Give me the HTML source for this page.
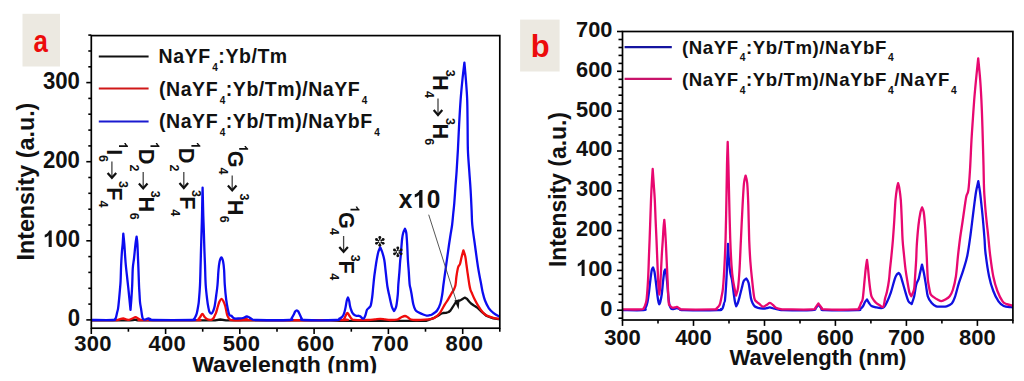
<!DOCTYPE html>
<html><head><meta charset="utf-8"><title>Figure</title>
<style>html,body{margin:0;padding:0;background:#fff;overflow:hidden}svg{display:block}</style>
</head><body>
<svg width="1024" height="381" viewBox="0 0 1024 381">
<rect width="1024" height="381" fill="#fff"/>
<rect x="22.5" y="13.8" width="37.5" height="52.7" fill="#ece9e1"/>
<rect x="520.1" y="19.6" width="39.5" height="51.9" fill="#ece9e1"/>
<text transform="translate(33.54 51.7) scale(0.809 1)" style="font-family:'Liberation Sans',sans-serif;font-weight:bold;font-size:32px" fill="#ec0c0c">a</text>
<text transform="translate(530.66 56.7) scale(0.967 1)" style="font-family:'Liberation Sans',sans-serif;font-weight:bold;font-size:32px" fill="#ec0c0c">b</text>
<g style="font-family:'Liberation Sans',sans-serif;font-weight:bold" fill="#111">
<g stroke="#000" stroke-width="1.6" fill="none">
<line x1="86.3" y1="319.9" x2="91.3" y2="319.9"/><line x1="88.3" y1="304.1" x2="91.3" y2="304.1"/><line x1="88.3" y1="288.3" x2="91.3" y2="288.3"/><line x1="88.3" y1="272.4" x2="91.3" y2="272.4"/><line x1="88.3" y1="256.6" x2="91.3" y2="256.6"/><line x1="86.3" y1="240.8" x2="91.3" y2="240.8"/><line x1="88.3" y1="225.0" x2="91.3" y2="225.0"/><line x1="88.3" y1="209.2" x2="91.3" y2="209.2"/><line x1="88.3" y1="193.3" x2="91.3" y2="193.3"/><line x1="88.3" y1="177.5" x2="91.3" y2="177.5"/><line x1="86.3" y1="161.7" x2="91.3" y2="161.7"/><line x1="88.3" y1="145.9" x2="91.3" y2="145.9"/><line x1="88.3" y1="130.1" x2="91.3" y2="130.1"/><line x1="88.3" y1="114.2" x2="91.3" y2="114.2"/><line x1="88.3" y1="98.4" x2="91.3" y2="98.4"/><line x1="86.3" y1="82.6" x2="91.3" y2="82.6"/><line x1="88.3" y1="66.8" x2="91.3" y2="66.8"/><line x1="88.3" y1="51.0" x2="91.3" y2="51.0"/><line x1="88.3" y1="35.1" x2="91.3" y2="35.1"/>
<line x1="91.3" y1="328.2" x2="91.3" y2="334.0"/><line x1="128.4" y1="328.2" x2="128.4" y2="331.7"/><line x1="165.6" y1="328.2" x2="165.6" y2="334.0"/><line x1="202.7" y1="328.2" x2="202.7" y2="331.7"/><line x1="239.8" y1="328.2" x2="239.8" y2="334.0"/><line x1="277.0" y1="328.2" x2="277.0" y2="331.7"/><line x1="314.1" y1="328.2" x2="314.1" y2="334.0"/><line x1="351.3" y1="328.2" x2="351.3" y2="331.7"/><line x1="388.4" y1="328.2" x2="388.4" y2="334.0"/><line x1="425.5" y1="328.2" x2="425.5" y2="331.7"/><line x1="462.7" y1="328.2" x2="462.7" y2="334.0"/><line x1="499.8" y1="328.2" x2="499.8" y2="331.7"/>
</g>
<clipPath id="ca"><rect x="91.3" y="35.6" width="408.5" height="292.6"/></clipPath>
<g clip-path="url(#ca)" fill="none" stroke-width="2.3" stroke-linejoin="round">
<path d="M91.3 320.4 L130.0 320.4 L133.0 320.0 L135.1 319.6 L137.5 320.4 L140.0 320.4 L215.0 320.4 L220.4 319.5 L226.0 320.4 L330.0 320.4 L340.0 320.8 L426.0 320.8 L434.2 317.8 L438.0 315.8 L440.5 314.0 L443.2 313.0 L446.0 312.8 L448.7 312.0 L450.5 310.5 L452.0 308.1 L454.0 305.0 L455.9 302.0 L458.1 300.9 L460.3 300.4 L462.5 299.0 L464.7 297.6 L466.9 298.7 L469.1 301.5 L471.0 303.5 L473.5 305.3 L475.5 306.5 L477.9 308.1 L482.3 312.3 L486.7 316.0 L493.3 318.3 L501.0 319.5" stroke="#111"/>
<path d="M91.30 320.10C95.08 320.10 109.72 320.10 114.00 320.10C118.28 320.10 116.00 320.25 117.00 320.10C118.00 319.95 118.97 319.47 120.00 319.20C121.03 318.93 122.12 318.45 123.20 318.50C124.28 318.55 125.53 319.28 126.50 319.50C127.47 319.72 128.00 319.97 129.00 319.80C130.00 319.63 131.42 318.95 132.50 318.50C133.58 318.05 134.50 317.05 135.50 317.10C136.50 317.15 137.58 318.30 138.50 318.80C139.42 319.30 140.25 319.88 141.00 320.10C141.75 320.32 133.83 320.10 143.00 320.10C152.17 320.10 186.85 320.15 196.00 320.10C205.15 320.05 197.20 320.32 197.90 319.80C198.60 319.28 199.45 317.98 200.20 317.00C200.95 316.02 201.67 313.90 202.40 313.90C203.13 313.90 203.78 316.10 204.60 317.00C205.42 317.90 206.40 318.82 207.30 319.30C208.20 319.78 209.22 319.87 210.00 319.90C210.78 319.93 211.40 319.82 212.00 319.50C212.60 319.18 213.10 318.75 213.60 318.00C214.10 317.25 214.57 315.95 215.00 315.00C215.43 314.05 215.70 313.80 216.20 312.30C216.70 310.80 217.45 307.80 218.00 306.00C218.55 304.20 218.92 302.70 219.50 301.50C220.08 300.30 220.87 298.88 221.50 298.80C222.13 298.72 222.68 299.80 223.30 301.00C223.92 302.20 224.70 304.33 225.20 306.00C225.70 307.67 225.95 309.43 226.30 311.00C226.65 312.57 226.78 314.05 227.30 315.40C227.82 316.75 228.62 318.32 229.40 319.10C230.18 319.88 229.73 319.93 232.00 320.10C234.27 320.27 240.55 320.32 243.00 320.10C245.45 319.88 245.53 318.80 246.70 318.80C247.87 318.80 234.45 319.88 250.00 320.10C265.55 320.32 324.37 320.27 340.00 320.10C355.63 319.93 342.88 319.78 343.80 319.10C344.72 318.42 344.92 317.05 345.50 316.00C346.08 314.95 346.67 312.88 347.30 312.80C347.93 312.72 348.60 314.53 349.30 315.50C350.00 316.47 350.72 317.88 351.50 318.60C352.28 319.32 351.25 319.57 354.00 319.80C356.75 320.03 364.50 320.08 368.00 320.00C371.50 319.92 372.97 319.50 375.00 319.30C377.03 319.10 378.53 318.78 380.20 318.80C381.87 318.82 383.37 319.20 385.00 319.40C386.63 319.60 387.95 319.98 390.00 320.00C392.05 320.02 395.47 319.92 397.30 319.50C399.13 319.08 399.72 318.08 401.00 317.50C402.28 316.92 403.83 316.00 405.00 316.00C406.17 316.00 406.98 316.92 408.00 317.50C409.02 318.08 409.77 319.08 411.10 319.50C412.43 319.92 413.68 319.97 416.00 320.00C418.32 320.03 422.48 319.87 425.00 319.70C427.52 319.53 429.43 319.37 431.10 319.00C432.77 318.63 433.63 318.37 435.00 317.50C436.37 316.63 438.13 315.13 439.30 313.80C440.47 312.47 441.10 311.02 442.00 309.50C442.90 307.98 443.90 306.03 444.70 304.70C445.50 303.37 446.13 302.55 446.80 301.50C447.47 300.45 447.87 299.83 448.70 298.40C449.53 296.97 450.95 294.35 451.80 292.90C452.65 291.45 453.18 291.02 453.80 289.70C454.42 288.38 455.05 287.28 455.50 285.00C455.95 282.72 456.05 279.00 456.50 276.00C456.95 273.00 457.62 269.00 458.20 267.00C458.78 265.00 459.43 265.67 460.00 264.00C460.57 262.33 461.03 259.27 461.60 257.00C462.17 254.73 463.04 251.72 463.40 250.40C463.78 251.62 464.78 254.07 465.30 256.50C465.82 258.93 466.13 262.37 466.50 265.00C466.87 267.63 467.02 268.97 467.50 272.30C467.98 275.63 468.90 282.05 469.40 285.00C469.90 287.95 470.13 288.75 470.50 290.00C470.87 291.25 470.92 290.95 471.60 292.50C472.28 294.05 473.55 297.17 474.60 299.30C475.65 301.43 476.62 303.23 477.90 305.30C479.18 307.37 480.83 309.98 482.30 311.70C483.77 313.42 484.87 314.57 486.70 315.60C488.53 316.63 490.92 317.32 493.30 317.90C495.68 318.48 499.72 318.90 501.00 319.10" stroke="#f00c0c"/>
<path d="M91.30 320.00C94.92 320.00 109.13 320.07 113.00 320.00C116.87 319.93 114.03 319.93 114.50 319.60C114.97 319.27 115.38 319.10 115.80 318.00C116.22 316.90 116.62 314.60 117.00 313.00C117.38 311.40 117.77 310.57 118.10 308.40C118.43 306.23 118.70 303.07 119.00 300.00C119.30 296.93 119.63 293.17 119.90 290.00C120.17 286.83 120.40 285.00 120.60 281.00C120.80 277.00 120.88 270.83 121.10 266.00C121.32 261.17 121.63 255.70 121.90 252.00C122.17 248.30 122.47 246.85 122.70 243.80C122.93 240.75 123.18 235.72 123.30 233.70C123.50 235.72 124.00 240.08 124.30 243.80C124.60 247.52 124.85 252.47 125.10 256.00C125.35 259.53 125.45 261.33 125.80 265.00C126.15 268.67 126.78 274.17 127.20 278.00C127.62 281.83 127.95 284.67 128.30 288.00C128.65 291.33 129.00 295.00 129.30 298.00C129.60 301.00 129.90 304.03 130.10 306.00C130.30 307.97 130.42 309.04 130.50 309.80C130.58 308.84 130.77 306.63 130.90 305.00C131.03 303.37 131.08 303.33 131.30 300.00C131.52 296.67 131.95 290.33 132.20 285.00C132.45 279.67 132.50 272.42 132.80 268.00C133.10 263.58 133.55 262.53 134.00 258.50C134.45 254.47 135.07 247.45 135.50 243.80C135.93 240.15 136.38 238.04 136.60 236.60C136.76 238.04 137.17 240.15 137.40 243.80C137.63 247.45 137.83 254.47 138.00 258.50C138.17 262.53 138.23 263.58 138.40 268.00C138.57 272.42 138.83 281.00 139.00 285.00C139.17 289.00 139.23 289.17 139.40 292.00C139.57 294.83 139.73 299.27 140.00 302.00C140.27 304.73 140.70 306.40 141.00 308.40C141.30 310.40 141.53 312.38 141.80 314.00C142.07 315.62 142.27 317.18 142.60 318.10C142.93 319.02 143.32 319.27 143.80 319.50C144.28 319.73 144.73 319.70 145.50 319.50C146.27 319.30 147.48 318.28 148.40 318.30C149.32 318.32 150.23 319.32 151.00 319.60C151.77 319.88 146.17 319.93 153.00 320.00C159.83 320.07 185.23 320.12 192.00 320.00C198.77 319.88 193.05 319.80 193.60 319.30C194.15 318.80 194.77 318.00 195.30 317.00C195.83 316.00 196.32 315.13 196.80 313.30C197.28 311.47 197.85 308.10 198.20 306.00C198.55 303.90 198.60 304.20 198.90 300.70C199.20 297.20 199.72 290.95 200.00 285.00C200.28 279.05 200.43 270.83 200.60 265.00C200.77 259.17 200.83 255.83 201.00 250.00C201.17 244.17 201.43 235.67 201.60 230.00C201.77 224.33 201.88 221.00 202.00 216.00C202.12 211.00 202.20 204.73 202.30 200.00C202.40 195.27 202.54 190.08 202.60 187.60C202.66 190.08 202.78 195.27 202.90 200.00C203.02 204.73 203.15 211.00 203.30 216.00C203.45 221.00 203.62 224.33 203.80 230.00C203.98 235.67 204.20 244.17 204.40 250.00C204.60 255.83 204.78 259.17 205.00 265.00C205.22 270.83 205.32 279.05 205.70 285.00C206.08 290.95 206.87 297.03 207.30 300.70C207.73 304.37 207.95 305.15 208.30 307.00C208.65 308.85 208.90 310.70 209.40 311.80C209.90 312.90 210.67 313.73 211.30 313.60C211.93 313.47 212.63 312.27 213.20 311.00C213.77 309.73 214.20 308.58 214.70 306.00C215.20 303.42 215.73 299.00 216.20 295.50C216.67 292.00 217.12 289.25 217.50 285.00C217.88 280.75 218.15 273.92 218.50 270.00C218.85 266.08 219.12 263.62 219.60 261.50C220.08 259.38 220.82 257.30 221.40 257.30C221.98 257.30 222.65 259.38 223.10 261.50C223.55 263.62 223.82 266.08 224.10 270.00C224.38 273.92 224.45 280.05 224.80 285.00C225.15 289.95 225.70 295.68 226.20 299.70C226.70 303.72 227.27 306.55 227.80 309.10C228.33 311.65 228.80 313.88 229.40 315.00C230.00 316.12 230.62 315.23 231.40 315.80C232.18 316.37 232.78 317.97 234.10 318.40C235.42 318.83 237.82 318.47 239.30 318.40C240.78 318.33 241.77 318.32 243.00 318.00C244.23 317.68 245.70 316.62 246.70 316.50C247.70 316.38 248.13 316.87 249.00 317.30C249.87 317.73 250.57 318.65 251.90 319.10C253.23 319.55 250.73 319.85 257.00 320.00C263.27 320.15 283.75 320.25 289.50 320.00C295.25 319.75 290.83 319.33 291.50 318.50C292.17 317.67 292.88 316.17 293.50 315.00C294.12 313.83 294.65 312.28 295.20 311.50C295.75 310.72 296.28 310.30 296.80 310.30C297.32 310.30 297.77 310.72 298.30 311.50C298.83 312.28 299.43 313.83 300.00 315.00C300.57 316.17 301.03 317.67 301.70 318.50C302.37 319.33 298.28 319.75 304.00 320.00C309.72 320.25 330.10 320.23 336.00 320.00C341.90 319.77 338.48 319.02 339.40 318.60C340.32 318.18 340.85 318.05 341.50 317.50C342.15 316.95 342.80 316.22 343.30 315.30C343.80 314.38 344.13 313.28 344.50 312.00C344.87 310.72 345.12 309.52 345.50 307.60C345.88 305.68 346.38 302.18 346.80 300.50C347.22 298.82 347.76 298.10 348.00 297.50C348.24 298.20 348.88 299.68 349.20 301.00C349.52 302.32 349.57 303.90 349.90 305.40C350.23 306.90 350.75 308.72 351.20 310.00C351.65 311.28 352.05 312.27 352.60 313.10C353.15 313.93 353.85 314.55 354.50 315.00C355.15 315.45 355.80 315.67 356.50 315.80C357.20 315.93 358.03 315.68 358.70 315.80C359.37 315.92 359.95 316.13 360.50 316.50C361.05 316.87 361.43 317.68 362.00 318.00C362.57 318.32 363.32 318.90 363.90 318.40C364.48 317.90 364.98 316.43 365.50 315.00C366.02 313.57 366.38 311.03 367.00 309.80C367.62 308.57 368.57 308.37 369.20 307.60C369.83 306.83 370.30 306.97 370.80 305.20C371.30 303.43 371.80 300.03 372.20 297.00C372.60 293.97 372.87 290.33 373.20 287.00C373.53 283.67 373.85 280.00 374.20 277.00C374.55 274.00 374.92 271.67 375.30 269.00C375.68 266.33 376.00 263.83 376.50 261.00C377.00 258.17 377.68 254.30 378.30 252.00C378.92 249.70 379.82 248.16 380.20 247.20C380.60 248.16 381.52 249.87 382.20 252.00C382.88 254.13 383.75 257.00 384.30 260.00C384.85 263.00 385.12 266.67 385.50 270.00C385.88 273.33 386.27 277.17 386.60 280.00C386.93 282.83 387.10 284.62 387.50 287.00C387.90 289.38 388.28 291.05 389.00 294.30C389.72 297.55 390.97 303.72 391.80 306.50C392.63 309.28 393.56 310.10 394.00 311.00C394.44 310.10 395.57 309.28 396.20 306.50C396.83 303.72 397.45 297.88 397.80 294.30C398.15 290.72 398.03 288.72 398.30 285.00C398.57 281.28 399.10 275.83 399.40 272.00C399.70 268.17 399.87 264.83 400.10 262.00C400.33 259.17 400.47 258.83 400.80 255.00C401.13 251.17 401.68 242.75 402.10 239.00C402.52 235.25 402.82 234.20 403.30 232.50C403.78 230.80 404.66 229.54 405.00 228.80C405.26 229.64 405.93 230.30 406.30 233.00C406.67 235.70 406.93 240.50 407.20 245.00C407.47 249.50 407.63 255.50 407.90 260.00C408.17 264.50 408.52 268.00 408.80 272.00C409.08 276.00 409.30 281.17 409.60 284.00C409.90 286.83 410.27 287.28 410.60 289.00C410.93 290.72 411.15 291.75 411.60 294.30C412.05 296.85 412.65 301.65 413.30 304.30C413.95 306.95 414.58 308.83 415.50 310.20C416.42 311.57 417.52 311.78 418.80 312.50C420.08 313.22 421.92 313.98 423.20 314.50C424.48 315.02 425.40 315.48 426.50 315.60C427.60 315.72 428.95 315.35 429.80 315.20C430.65 315.05 430.87 315.07 431.60 314.70C432.33 314.33 433.28 313.70 434.20 313.00C435.12 312.30 436.07 312.08 437.10 310.50C438.13 308.92 439.53 306.25 440.40 303.50C441.27 300.75 441.80 297.08 442.30 294.00C442.80 290.92 442.82 289.40 443.40 285.00C443.98 280.60 444.88 274.18 445.80 267.60C446.72 261.02 448.12 250.93 448.90 245.50C449.68 240.07 449.97 238.42 450.50 235.00C451.03 231.58 451.63 228.67 452.10 225.00C452.57 221.33 452.93 216.67 453.30 213.00C453.67 209.33 453.93 207.50 454.30 203.00C454.67 198.50 455.12 191.25 455.50 186.00C455.88 180.75 456.20 177.50 456.60 171.50C457.00 165.50 457.48 157.75 457.90 150.00C458.32 142.25 458.65 133.33 459.10 125.00C459.55 116.67 460.05 107.50 460.60 100.00C461.15 92.50 461.77 86.23 462.40 80.00C463.03 73.77 464.00 66.08 464.40 62.60C464.70 66.08 465.43 73.77 465.90 80.00C466.37 86.23 466.92 92.50 467.20 100.00C467.48 107.50 467.48 116.67 467.60 125.00C467.72 133.33 467.62 142.25 467.90 150.00C468.18 157.75 468.85 164.83 469.30 171.50C469.75 178.17 470.22 183.58 470.60 190.00C470.98 196.42 471.32 204.17 471.60 210.00C471.88 215.83 471.73 219.08 472.30 225.00C472.87 230.92 474.03 238.40 475.00 245.50C475.97 252.60 477.05 261.02 478.10 267.60C479.15 274.18 480.55 280.93 481.30 285.00C482.05 289.07 481.98 289.42 482.60 292.00C483.22 294.58 483.95 297.78 485.00 300.50C486.05 303.22 487.52 306.25 488.90 308.30C490.28 310.35 491.65 311.48 493.30 312.80C494.95 314.12 497.52 315.53 498.80 316.20C500.08 316.87 500.63 316.70 501.00 316.80" stroke="#0c0cf0"/>
</g>
<rect x="91.3" y="35.6" width="408.5" height="292.6" fill="none" stroke="#000" stroke-width="1.7"/>
<g transform="translate(0 326.20) scale(1 1.040)"><text x="67.65" y="0" style="font-size:22.20px;letter-spacing:0.00px">0</text></g>
<g transform="translate(0 247.10) scale(1 1.040)"><path transform="translate(42.96 0.00) scale(0.01084 -0.01084)" d="M807 0H526V1059C424 963 303 892 162 846V1101C235 1125 316 1170 402 1237C488 1305 547 1382 579 1466H807Z"/><text x="55.31" y="0" style="font-size:22.20px;letter-spacing:0.00px">00</text></g>
<g transform="translate(0 168.00) scale(1 1.040)"><text x="42.96" y="0" style="font-size:22.20px;letter-spacing:0.00px">200</text></g>
<g transform="translate(0 88.90) scale(1 1.040)"><text x="42.96" y="0" style="font-size:22.20px;letter-spacing:0.00px">300</text></g>
<g transform="translate(0 351.40) scale(1 1.030)"><text x="74.25" y="0" style="font-size:22.00px;letter-spacing:0.30px">300</text></g>
<g transform="translate(0 351.40) scale(1 1.030)"><text x="148.52" y="0" style="font-size:22.00px;letter-spacing:0.30px">400</text></g>
<g transform="translate(0 351.40) scale(1 1.030)"><text x="222.79" y="0" style="font-size:22.00px;letter-spacing:0.30px">500</text></g>
<g transform="translate(0 351.40) scale(1 1.030)"><text x="297.07" y="0" style="font-size:22.00px;letter-spacing:0.30px">600</text></g>
<g transform="translate(0 351.40) scale(1 1.030)"><text x="371.34" y="0" style="font-size:22.00px;letter-spacing:0.30px">700</text></g>
<g transform="translate(0 351.40) scale(1 1.030)"><text x="445.61" y="0" style="font-size:22.00px;letter-spacing:0.30px">800</text></g>
<text x="192.18" y="372.00" textLength="184.97" lengthAdjust="spacingAndGlyphs"  style="font-size:22.5px">Wavelength (nm)</text>
<g transform="translate(34.2 259) rotate(-90)"><text x="-1.56" y="0.00" textLength="157.92" lengthAdjust="spacingAndGlyphs"  style="font-size:24.0px">Intensity (a.u.)</text></g>
<g stroke-width="2">
<line x1="98.8" y1="56.4" x2="148.6" y2="56.4" stroke="#111"/>
<line x1="98.8" y1="88.6" x2="148.6" y2="88.6" stroke="#d01818"/>
<line x1="98.8" y1="121.4" x2="148.6" y2="121.4" stroke="#1a1ad0"/>
</g>
<text x="158.6" y="63.2" style="font-size:19.5px;letter-spacing:0.55px"><tspan dy="0.0">NaYF</tspan><tspan style="font-size:10.0px" dx="1.6" dy="8.0">4</tspan><tspan dy="-8.0">:Yb/Tm</tspan></text>
<text x="159.0" y="95.6" style="font-size:19.5px;letter-spacing:0.55px"><tspan dy="0.0">(NaYF</tspan><tspan style="font-size:10.0px" dx="1.6" dy="8.0">4</tspan><tspan dy="-8.0">:Yb/Tm)/NaYF</tspan><tspan style="font-size:10.0px" dx="1.6" dy="8.0">4</tspan></text>
<text x="159.0" y="128.4" style="font-size:19.5px;letter-spacing:0.55px"><tspan dy="0.0">(NaYF</tspan><tspan style="font-size:10.0px" dx="1.6" dy="8.0">4</tspan><tspan dy="-8.0">:Yb/Tm)/NaYbF</tspan><tspan style="font-size:10.0px" dx="1.6" dy="8.0">4</tspan></text>
<path transform="translate(119.00 142.11) rotate(90) scale(0.00610 -0.00610)" d="M807 0H526V1059C424 963 303 892 162 846V1101C235 1125 316 1170 402 1237C488 1305 547 1382 579 1466H807Z"/><text transform="translate(107.20 149.14) rotate(90)" style="font-size:21.8px">I</text><text transform="translate(99.00 154.94) rotate(90)" style="font-size:12.5px">6</text><line x1="111.9" y1="161.5" x2="111.9" y2="178.0" stroke="#444" stroke-width="1.3"/><path d="M107.6 172.9 L111.9 177.8 L116.2 172.9" fill="none" stroke="#111" stroke-width="2.2" stroke-linejoin="miter" stroke-miterlimit="6"/><text transform="translate(119.40 181.11) rotate(90)" style="font-size:12.5px">3</text><text transform="translate(107.40 187.24) rotate(90)" style="font-size:21.8px">F</text><text transform="translate(99.10 200.51) rotate(90)" style="font-size:12.5px">4</text>
<path transform="translate(150.50 142.11) rotate(90) scale(0.00610 -0.00610)" d="M807 0H526V1059C424 963 303 892 162 846V1101C235 1125 316 1170 402 1237C488 1305 547 1382 579 1466H807Z"/><text transform="translate(138.70 148.74) rotate(90)" style="font-size:21.8px">D</text><text transform="translate(130.00 164.57) rotate(90)" style="font-size:12.5px">2</text><line x1="143.2" y1="171.9" x2="143.2" y2="188.6" stroke="#444" stroke-width="1.3"/><path d="M138.9 183.5 L143.2 188.4 L147.5 183.5" fill="none" stroke="#111" stroke-width="2.2" stroke-linejoin="miter" stroke-miterlimit="6"/><text transform="translate(151.10 190.71) rotate(90)" style="font-size:12.5px">3</text><text transform="translate(138.60 196.44) rotate(90)" style="font-size:21.8px">H</text><text transform="translate(130.10 212.84) rotate(90)" style="font-size:12.5px">6</text>
<path transform="translate(191.40 141.91) rotate(90) scale(0.00610 -0.00610)" d="M807 0H526V1059C424 963 303 892 162 846V1101C235 1125 316 1170 402 1237C488 1305 547 1382 579 1466H807Z"/><text transform="translate(179.20 147.84) rotate(90)" style="font-size:21.8px">D</text><text transform="translate(170.40 164.47) rotate(90)" style="font-size:12.5px">2</text><line x1="183.8" y1="171.9" x2="183.8" y2="188.2" stroke="#444" stroke-width="1.3"/><path d="M179.5 183.1 L183.8 188.0 L188.1 183.1" fill="none" stroke="#111" stroke-width="2.2" stroke-linejoin="miter" stroke-miterlimit="6"/><text transform="translate(192.00 190.11) rotate(90)" style="font-size:12.5px">3</text><text transform="translate(179.60 196.24) rotate(90)" style="font-size:21.8px">F</text><text transform="translate(171.30 209.21) rotate(90)" style="font-size:12.5px">4</text>
<path transform="translate(239.20 144.91) rotate(90) scale(0.00610 -0.00610)" d="M807 0H526V1059C424 963 303 892 162 846V1101C235 1125 316 1170 402 1237C488 1305 547 1382 579 1466H807Z"/><text transform="translate(227.70 150.81) rotate(90)" style="font-size:21.8px">G</text><text transform="translate(219.20 167.61) rotate(90)" style="font-size:12.5px">4</text><line x1="232.2" y1="175.5" x2="232.2" y2="190.6" stroke="#444" stroke-width="1.3"/><path d="M227.9 185.5 L232.2 190.4 L236.5 185.5" fill="none" stroke="#111" stroke-width="2.2" stroke-linejoin="miter" stroke-miterlimit="6"/><text transform="translate(240.40 193.51) rotate(90)" style="font-size:12.5px">3</text><text transform="translate(227.50 199.64) rotate(90)" style="font-size:21.8px">H</text><text transform="translate(219.80 215.84) rotate(90)" style="font-size:12.5px">6</text>
<path transform="translate(350.50 205.51) rotate(90) scale(0.00610 -0.00610)" d="M807 0H526V1059C424 963 303 892 162 846V1101C235 1125 316 1170 402 1237C488 1305 547 1382 579 1466H807Z"/><text transform="translate(339.10 212.11) rotate(90)" style="font-size:21.8px">G</text><text transform="translate(330.40 228.11) rotate(90)" style="font-size:12.5px">4</text><line x1="343.6" y1="236.0" x2="343.6" y2="252.1" stroke="#444" stroke-width="1.3"/><path d="M339.3 247.0 L343.6 251.9 L347.9 247.0" fill="none" stroke="#111" stroke-width="2.2" stroke-linejoin="miter" stroke-miterlimit="6"/><text transform="translate(351.10 254.81) rotate(90)" style="font-size:12.5px">3</text><text transform="translate(338.90 260.44) rotate(90)" style="font-size:21.8px">F</text><text transform="translate(330.40 273.21) rotate(90)" style="font-size:12.5px">4</text>
<text transform="translate(445.70 69.71) rotate(90)" style="font-size:12.5px">3</text><text transform="translate(433.30 75.04) rotate(90)" style="font-size:21.8px">H</text><text transform="translate(425.00 91.11) rotate(90)" style="font-size:12.5px">4</text><line x1="438.0" y1="98.4" x2="438.0" y2="115.2" stroke="#444" stroke-width="1.3"/><path d="M433.7 110.1 L438.0 115.0 L442.3 110.1" fill="none" stroke="#111" stroke-width="2.2" stroke-linejoin="miter" stroke-miterlimit="6"/><text transform="translate(445.60 118.11) rotate(90)" style="font-size:12.5px">3</text><text transform="translate(433.40 123.44) rotate(90)" style="font-size:21.8px">H</text><text transform="translate(424.90 138.24) rotate(90)" style="font-size:12.5px">6</text>
<g transform="translate(0 207.80) scale(1 1.020)"><text x="398.80" y="0" style="font-size:24.50px;letter-spacing:0.40px">x</text><path transform="translate(412.83 0.00) scale(0.01196 -0.01196)" d="M807 0H526V1059C424 963 303 892 162 846V1101C235 1125 316 1170 402 1237C488 1305 547 1382 579 1466H807Z"/><text x="426.85" y="0" style="font-size:24.50px;letter-spacing:0.40px">0</text></g>
<line x1="379.80" y1="240.40" x2="379.80" y2="237.50" stroke="#111" stroke-width="1.3"/><circle cx="379.80" cy="237.55" r="1.45" fill="#111"/><line x1="380.67" y1="240.90" x2="383.18" y2="239.45" stroke="#111" stroke-width="1.3"/><circle cx="383.13" cy="239.47" r="1.45" fill="#111"/><line x1="380.67" y1="241.90" x2="383.18" y2="243.35" stroke="#111" stroke-width="1.3"/><circle cx="383.13" cy="243.33" r="1.45" fill="#111"/><line x1="379.80" y1="242.40" x2="379.80" y2="245.30" stroke="#111" stroke-width="1.3"/><circle cx="379.80" cy="245.25" r="1.45" fill="#111"/><line x1="378.93" y1="241.90" x2="376.42" y2="243.35" stroke="#111" stroke-width="1.3"/><circle cx="376.47" cy="243.33" r="1.45" fill="#111"/><line x1="378.93" y1="240.90" x2="376.42" y2="239.45" stroke="#111" stroke-width="1.3"/><circle cx="376.47" cy="239.47" r="1.45" fill="#111"/>
<line x1="397.80" y1="250.90" x2="397.80" y2="248.00" stroke="#111" stroke-width="1.3"/><circle cx="397.80" cy="248.05" r="1.45" fill="#111"/><line x1="398.67" y1="251.40" x2="401.18" y2="249.95" stroke="#111" stroke-width="1.3"/><circle cx="401.13" cy="249.97" r="1.45" fill="#111"/><line x1="398.67" y1="252.40" x2="401.18" y2="253.85" stroke="#111" stroke-width="1.3"/><circle cx="401.13" cy="253.83" r="1.45" fill="#111"/><line x1="397.80" y1="252.90" x2="397.80" y2="255.80" stroke="#111" stroke-width="1.3"/><circle cx="397.80" cy="255.75" r="1.45" fill="#111"/><line x1="396.93" y1="252.40" x2="394.42" y2="253.85" stroke="#111" stroke-width="1.3"/><circle cx="394.47" cy="253.83" r="1.45" fill="#111"/><line x1="396.93" y1="251.40" x2="394.42" y2="249.95" stroke="#111" stroke-width="1.3"/><circle cx="394.47" cy="249.97" r="1.45" fill="#111"/>
<line x1="428.7" y1="214.7" x2="456.6" y2="302" stroke="#444" stroke-width="0.9"/>
<path d="M454.4 300.4 L459.6 299.4 L458.6 309.6 Z" fill="#111"/>
<g stroke="#000" stroke-width="1.6" fill="none">
<line x1="618.5" y1="318.2" x2="622.5" y2="318.2"/><line x1="617.0" y1="310.2" x2="622.5" y2="310.2"/><line x1="618.5" y1="302.2" x2="622.5" y2="302.2"/><line x1="618.5" y1="294.3" x2="622.5" y2="294.3"/><line x1="618.5" y1="286.3" x2="622.5" y2="286.3"/><line x1="618.5" y1="278.4" x2="622.5" y2="278.4"/><line x1="617.0" y1="270.4" x2="622.5" y2="270.4"/><line x1="618.5" y1="262.4" x2="622.5" y2="262.4"/><line x1="618.5" y1="254.5" x2="622.5" y2="254.5"/><line x1="618.5" y1="246.5" x2="622.5" y2="246.5"/><line x1="618.5" y1="238.5" x2="622.5" y2="238.5"/><line x1="617.0" y1="230.6" x2="622.5" y2="230.6"/><line x1="618.5" y1="222.6" x2="622.5" y2="222.6"/><line x1="618.5" y1="214.7" x2="622.5" y2="214.7"/><line x1="618.5" y1="206.7" x2="622.5" y2="206.7"/><line x1="618.5" y1="198.7" x2="622.5" y2="198.7"/><line x1="617.0" y1="190.8" x2="622.5" y2="190.8"/><line x1="618.5" y1="182.8" x2="622.5" y2="182.8"/><line x1="618.5" y1="174.8" x2="622.5" y2="174.8"/><line x1="618.5" y1="166.9" x2="622.5" y2="166.9"/><line x1="618.5" y1="158.9" x2="622.5" y2="158.9"/><line x1="617.0" y1="151.0" x2="622.5" y2="151.0"/><line x1="618.5" y1="143.0" x2="622.5" y2="143.0"/><line x1="618.5" y1="135.0" x2="622.5" y2="135.0"/><line x1="618.5" y1="127.1" x2="622.5" y2="127.1"/><line x1="618.5" y1="119.1" x2="622.5" y2="119.1"/><line x1="617.0" y1="111.1" x2="622.5" y2="111.1"/><line x1="618.5" y1="103.2" x2="622.5" y2="103.2"/><line x1="618.5" y1="95.2" x2="622.5" y2="95.2"/><line x1="618.5" y1="87.3" x2="622.5" y2="87.3"/><line x1="618.5" y1="79.3" x2="622.5" y2="79.3"/><line x1="617.0" y1="71.3" x2="622.5" y2="71.3"/><line x1="618.5" y1="63.4" x2="622.5" y2="63.4"/><line x1="618.5" y1="55.4" x2="622.5" y2="55.4"/><line x1="618.5" y1="47.5" x2="622.5" y2="47.5"/><line x1="618.5" y1="39.5" x2="622.5" y2="39.5"/><line x1="617.0" y1="31.5" x2="622.5" y2="31.5"/>
<line x1="622.5" y1="320.0" x2="622.5" y2="325.9"/><line x1="658.0" y1="320.0" x2="658.0" y2="323.5"/><line x1="693.5" y1="320.0" x2="693.5" y2="325.9"/><line x1="729.0" y1="320.0" x2="729.0" y2="323.5"/><line x1="764.5" y1="320.0" x2="764.5" y2="325.9"/><line x1="800.0" y1="320.0" x2="800.0" y2="323.5"/><line x1="835.4" y1="320.0" x2="835.4" y2="325.9"/><line x1="870.9" y1="320.0" x2="870.9" y2="323.5"/><line x1="906.4" y1="320.0" x2="906.4" y2="325.9"/><line x1="941.9" y1="320.0" x2="941.9" y2="323.5"/><line x1="977.4" y1="320.0" x2="977.4" y2="325.9"/><line x1="1012.9" y1="320.0" x2="1012.9" y2="323.5"/>
</g>
<clipPath id="cb"><rect x="622.5" y="31.5" width="390.4" height="288.5"/></clipPath>
<g clip-path="url(#cb)" fill="none" stroke-width="2.3" stroke-linejoin="round">
<path d="M622.50 310.10C626.00 310.10 639.67 310.45 643.50 310.10C647.33 309.75 644.83 309.35 645.50 308.00C646.17 306.65 646.92 304.67 647.50 302.00C648.08 299.33 648.50 295.83 649.00 292.00C649.50 288.17 650.03 282.67 650.50 279.00C650.97 275.33 651.37 271.92 651.80 270.00C652.23 268.08 652.84 268.00 653.10 267.50C653.38 268.40 654.02 269.42 654.50 272.00C654.98 274.58 655.50 279.00 656.00 283.00C656.50 287.00 657.07 292.75 657.50 296.00C657.93 299.25 658.30 301.12 658.60 302.50C658.90 303.88 659.16 303.94 659.30 304.30C659.50 303.84 659.88 303.72 660.30 302.00C660.72 300.28 661.35 297.33 661.80 294.00C662.25 290.67 662.60 285.67 663.00 282.00C663.40 278.33 663.83 274.08 664.20 272.00C664.57 269.92 665.00 270.00 665.20 269.50C665.40 270.20 665.85 270.58 666.20 273.00C666.55 275.42 666.95 280.17 667.30 284.00C667.65 287.83 667.95 292.58 668.30 296.00C668.65 299.42 668.95 302.42 669.40 304.50C669.85 306.58 670.32 307.75 671.00 308.50C671.68 309.25 672.52 309.05 673.50 309.00C674.48 308.95 675.82 308.15 676.90 308.20C677.98 308.25 678.82 308.98 680.00 309.30C681.18 309.62 677.67 309.97 684.00 310.10C690.33 310.23 711.83 310.25 718.00 310.10C724.17 309.95 720.25 309.47 721.00 309.20C721.75 308.93 721.97 309.53 722.50 308.50C723.03 307.47 723.78 304.42 724.20 303.00C724.62 301.58 724.63 303.83 725.00 300.00C725.37 296.17 726.02 286.67 726.40 280.00C726.78 273.33 727.03 266.00 727.30 260.00C727.57 254.00 727.86 247.20 728.00 244.00C728.16 246.80 728.43 253.33 728.80 258.00C729.17 262.67 729.67 268.33 730.20 272.00C730.73 275.67 731.40 276.33 732.00 280.00C732.60 283.67 733.30 290.33 733.80 294.00C734.30 297.67 734.60 299.97 735.00 302.00C735.40 304.03 735.96 305.36 736.20 306.20C736.52 305.56 737.20 304.70 737.80 303.00C738.40 301.30 739.13 298.50 739.80 296.00C740.47 293.50 741.15 290.50 741.80 288.00C742.45 285.50 742.95 282.58 743.70 281.00C744.45 279.42 745.78 279.00 746.30 278.50C746.76 279.40 747.83 279.77 748.60 283.00C749.37 286.23 750.20 294.48 750.90 297.90C751.60 301.32 752.13 302.07 752.80 303.50C753.47 304.93 754.03 305.78 754.90 306.50C755.77 307.22 756.65 307.47 758.00 307.80C759.35 308.13 761.58 308.43 763.00 308.50C764.42 308.57 765.35 308.38 766.50 308.20C767.65 308.02 768.73 307.35 769.90 307.40C771.07 307.45 772.15 308.18 773.50 308.50C774.85 308.82 776.42 309.03 778.00 309.30C779.58 309.57 777.33 309.97 783.00 310.10C788.67 310.23 806.58 310.37 812.00 310.10C817.42 309.83 814.43 309.43 815.50 308.50C816.57 307.57 817.82 305.30 818.40 304.50C819.02 305.30 820.40 307.57 821.50 308.50C822.60 309.43 819.08 309.83 825.00 310.10C830.92 310.37 851.17 310.28 857.00 310.10C862.83 309.92 859.03 309.60 860.00 309.00C860.97 308.40 861.97 307.67 862.80 306.50C863.63 305.33 864.30 303.17 865.00 302.00C865.70 300.83 866.60 300.00 867.00 299.50C867.40 300.20 868.25 301.92 869.00 303.00C869.75 304.08 870.27 305.27 871.50 306.00C872.73 306.73 874.78 307.07 876.40 307.40C878.02 307.73 879.92 308.07 881.20 308.00C882.48 307.93 883.13 307.98 884.10 307.00C885.07 306.02 885.87 304.53 887.00 302.10C888.13 299.67 889.60 296.28 890.90 292.40C892.20 288.52 893.82 281.78 894.80 278.80C895.78 275.82 896.15 275.47 896.80 274.50C897.45 273.53 898.32 273.30 898.70 273.00C899.02 273.40 899.82 274.03 900.30 275.00C900.78 275.97 900.73 275.90 901.60 278.80C902.47 281.70 904.37 288.67 905.50 292.40C906.63 296.13 907.37 299.25 908.40 301.20C909.43 303.15 911.04 303.52 911.70 304.10C912.20 302.54 913.45 299.53 914.20 296.30C914.95 293.07 915.45 287.62 916.20 284.70C916.95 281.78 918.07 280.75 918.70 278.80C919.33 276.85 919.45 275.37 920.00 273.00C920.55 270.63 921.60 266.28 922.00 264.60C922.38 266.28 923.25 269.65 923.90 273.00C924.55 276.35 925.25 280.82 925.90 284.70C926.55 288.58 926.83 293.23 927.80 296.30C928.77 299.37 930.30 301.43 931.70 303.10C933.10 304.77 934.65 305.72 936.20 306.30C937.75 306.88 939.27 306.60 941.00 306.60C942.73 306.60 944.80 306.82 946.60 306.30C948.40 305.78 950.42 305.02 951.80 303.50C953.18 301.98 953.70 300.67 954.90 297.20C956.10 293.73 957.62 287.18 959.00 282.70C960.38 278.22 961.82 274.80 963.20 270.30C964.58 265.80 966.08 261.58 967.30 255.70C968.52 249.82 969.45 242.62 970.50 235.00C971.55 227.38 972.68 217.17 973.60 210.00C974.52 202.83 975.22 196.80 976.00 192.00C976.78 187.20 977.84 183.36 978.30 181.20C978.64 183.36 979.38 187.20 980.00 192.00C980.62 196.80 981.43 204.50 982.00 210.00C982.57 215.50 982.97 220.00 983.40 225.00C983.83 230.00 984.25 235.33 984.60 240.00C984.95 244.67 984.75 246.92 985.50 253.00C986.25 259.08 987.80 270.17 989.10 276.50C990.40 282.83 991.73 286.85 993.30 291.00C994.87 295.15 996.77 298.90 998.50 301.40C1000.23 303.90 1001.63 305.03 1003.70 306.00C1005.77 306.97 1009.18 306.98 1010.90 307.20C1012.62 307.42 1013.48 307.28 1014.00 307.30" stroke="#1010e0"/>
<path d="M622.50 309.40C625.58 309.40 637.45 309.62 641.00 309.40C644.55 309.18 643.05 309.00 643.80 308.10C644.55 307.20 645.02 305.62 645.50 304.00C645.98 302.38 646.27 302.58 646.70 298.40C647.13 294.22 647.72 286.13 648.10 278.90C648.48 271.67 648.75 261.48 649.00 255.00C649.25 248.52 649.38 245.83 649.60 240.00C649.82 234.17 650.07 226.67 650.30 220.00C650.53 213.33 650.77 205.83 651.00 200.00C651.23 194.17 651.42 190.17 651.70 185.00C651.98 179.83 652.50 172.20 652.70 169.00C652.92 172.20 653.45 179.83 653.80 185.00C654.15 190.17 654.50 194.17 654.80 200.00C655.10 205.83 655.32 213.33 655.60 220.00C655.88 226.67 656.18 232.50 656.50 240.00C656.82 247.50 657.18 257.50 657.50 265.00C657.82 272.50 658.10 280.08 658.40 285.00C658.70 289.92 659.12 292.60 659.30 294.50C659.50 292.60 659.88 291.58 660.30 285.00C660.72 278.42 661.38 262.50 661.80 255.00C662.22 247.50 662.52 244.50 662.80 240.00C663.08 235.50 663.25 231.37 663.50 228.00C663.75 224.63 664.14 221.44 664.30 219.80C664.44 221.44 664.77 224.63 665.00 228.00C665.23 231.37 665.50 236.33 665.70 240.00C665.90 243.67 665.90 243.52 666.20 250.00C666.50 256.48 667.08 270.18 667.50 278.90C667.92 287.62 668.28 297.87 668.70 302.30C669.12 306.73 669.45 304.63 670.00 305.50C670.55 306.37 671.25 307.17 672.00 307.50C672.75 307.83 673.68 307.60 674.50 307.50C675.32 307.40 676.07 306.75 676.90 306.90C677.73 307.05 678.48 307.98 679.50 308.40C680.52 308.82 677.25 309.23 683.00 309.40C688.75 309.57 708.50 309.48 714.00 309.40C719.50 309.32 715.25 309.38 716.00 308.90C716.75 308.42 717.83 307.33 718.50 306.50C719.17 305.67 719.50 305.48 720.00 303.90C720.50 302.32 721.00 299.67 721.50 297.00C722.00 294.33 722.50 293.23 723.00 287.90C723.50 282.57 724.07 273.32 724.50 265.00C724.93 256.68 725.28 248.83 725.60 238.00C725.92 227.17 726.17 212.17 726.40 200.00C726.63 187.83 726.78 174.67 727.00 165.00C727.22 155.33 727.56 146.60 727.70 142.00C727.84 146.60 728.15 155.33 728.40 165.00C728.65 174.67 728.90 187.83 729.20 200.00C729.50 212.17 729.82 227.17 730.20 238.00C730.58 248.83 731.03 258.00 731.50 265.00C731.97 272.00 732.25 274.90 733.00 280.00C733.75 285.10 735.40 292.48 736.00 295.60C736.40 294.08 737.42 292.27 738.00 288.00C738.58 283.73 739.02 278.00 739.50 270.00C739.98 262.00 740.38 250.83 740.90 240.00C741.42 229.17 742.08 214.50 742.60 205.00C743.12 195.50 743.50 187.90 744.00 183.00C744.50 178.10 745.28 177.08 745.60 175.60C745.92 177.08 746.75 178.10 747.20 183.00C747.65 187.90 747.97 195.50 748.30 205.00C748.63 214.50 748.85 230.50 749.20 240.00C749.55 249.50 749.95 255.68 750.40 262.00C750.85 268.32 751.25 271.92 751.90 277.90C752.55 283.88 753.47 293.90 754.30 297.90C755.13 301.90 756.03 300.88 756.90 301.90C757.77 302.92 758.50 303.20 759.50 304.00C760.50 304.80 761.73 306.53 762.90 306.70C764.07 306.87 765.33 305.65 766.50 305.00C767.67 304.35 768.82 302.80 769.90 302.80C770.98 302.80 772.00 304.18 773.00 305.00C774.00 305.82 774.42 306.98 775.90 307.70C777.38 308.42 780.22 309.02 781.90 309.30C783.58 309.58 780.98 309.38 786.00 309.40C791.02 309.42 807.08 309.72 812.00 309.40C816.92 309.08 814.43 308.48 815.50 307.50C816.57 306.52 817.82 304.30 818.40 303.50C819.02 304.30 820.40 306.52 821.50 307.50C822.60 308.48 819.25 309.08 825.00 309.40C830.75 309.72 850.35 309.63 856.00 309.40C861.65 309.17 858.07 309.07 858.90 308.00C859.73 306.93 860.35 304.62 861.00 303.00C861.65 301.38 862.18 302.33 862.80 298.30C863.42 294.27 864.20 283.85 864.70 278.80C865.20 273.75 865.42 271.17 865.80 268.00C866.18 264.83 866.76 261.44 867.00 259.80C867.20 261.44 867.67 264.83 868.00 268.00C868.33 271.17 868.62 275.13 869.00 278.80C869.38 282.47 869.88 287.08 870.30 290.00C870.72 292.92 870.88 294.55 871.50 296.30C872.12 298.05 873.18 299.37 874.00 300.50C874.82 301.63 875.52 302.35 876.40 303.10C877.28 303.85 878.17 304.38 879.30 305.00C880.43 305.62 882.23 307.92 883.20 306.80C884.17 305.68 884.47 300.85 885.10 298.30C885.73 295.75 886.35 294.55 887.00 291.50C887.65 288.45 888.50 283.73 889.00 280.00C889.50 276.27 889.58 273.27 890.00 269.10C890.42 264.93 891.02 259.85 891.50 255.00C891.98 250.15 892.43 245.83 892.90 240.00C893.37 234.17 893.87 226.67 894.30 220.00C894.73 213.33 895.05 205.33 895.50 200.00C895.95 194.67 896.57 190.80 897.00 188.00C897.43 185.20 897.88 184.16 898.10 183.20C898.34 184.16 898.85 185.20 899.30 188.00C899.75 190.80 900.38 194.67 900.80 200.00C901.22 205.33 901.50 213.33 901.80 220.00C902.10 226.67 902.23 234.17 902.60 240.00C902.97 245.83 903.52 250.15 904.00 255.00C904.48 259.85 904.92 264.60 905.50 269.10C906.08 273.60 906.85 278.12 907.50 282.00C908.15 285.88 908.77 290.02 909.40 292.40C910.03 294.78 910.92 295.52 911.30 296.30C911.60 295.64 912.32 294.30 912.80 293.00C913.28 291.70 913.80 291.50 914.20 288.50C914.60 285.50 914.87 279.85 915.20 275.00C915.53 270.15 915.93 264.40 916.20 259.40C916.47 254.40 916.42 250.73 916.80 245.00C917.18 239.27 917.88 230.50 918.50 225.00C919.12 219.50 919.90 214.93 920.50 212.00C921.10 209.07 921.78 208.32 922.10 207.40C922.42 208.32 923.22 209.07 923.70 212.00C924.18 214.93 924.63 220.33 925.00 225.00C925.37 229.67 925.60 234.50 925.90 240.00C926.20 245.50 926.48 251.53 926.80 258.00C927.12 264.47 927.40 273.80 927.80 278.80C928.20 283.80 928.72 285.40 929.20 288.00C929.68 290.60 929.88 292.85 930.70 294.40C931.52 295.95 932.97 296.45 934.10 297.30C935.23 298.15 936.28 298.85 937.50 299.50C938.72 300.15 940.07 301.20 941.40 301.20C942.73 301.20 944.12 300.33 945.50 299.50C946.88 298.67 948.48 297.78 949.70 296.20C950.92 294.62 951.77 293.28 952.80 290.00C953.83 286.72 955.03 282.22 955.90 276.50C956.77 270.78 957.30 262.12 958.00 255.70C958.70 249.28 959.35 243.62 960.10 238.00C960.85 232.38 961.77 227.00 962.50 222.00C963.23 217.00 963.87 212.27 964.50 208.00C965.13 203.73 965.65 199.40 966.30 196.40C966.95 193.40 967.78 194.40 968.40 190.00C969.02 185.60 969.48 178.33 970.00 170.00C970.52 161.67 971.03 148.33 971.50 140.00C971.97 131.67 972.35 126.67 972.80 120.00C973.25 113.33 973.67 106.67 974.20 100.00C974.73 93.33 975.33 86.95 976.00 80.00C976.67 73.05 977.76 62.64 978.20 58.30C978.60 62.64 979.67 73.05 980.20 80.00C980.73 86.95 981.07 93.33 981.40 100.00C981.73 106.67 981.97 113.33 982.20 120.00C982.43 126.67 982.58 132.50 982.80 140.00C983.02 147.50 983.28 156.67 983.50 165.00C983.72 173.33 983.77 182.50 984.10 190.00C984.43 197.50 985.02 204.17 985.50 210.00C985.98 215.83 986.57 220.83 987.00 225.00C987.43 229.17 987.57 229.88 988.10 235.00C988.63 240.12 989.33 248.78 990.20 255.70C991.07 262.62 992.10 270.62 993.30 276.50C994.50 282.38 995.85 286.85 997.40 291.00C998.95 295.15 1001.03 299.22 1002.60 301.40C1004.17 303.58 1005.23 303.42 1006.80 304.10C1008.37 304.78 1010.80 305.25 1012.00 305.50C1013.20 305.75 1013.67 305.58 1014.00 305.60" stroke="#e80870"/>
</g>
<rect x="622.5" y="31.5" width="390.4" height="288.5" fill="none" stroke="#000" stroke-width="1.7"/>
<g transform="translate(0 315.70) scale(1 1.030)"><text x="600.28" y="0" style="font-size:21.80px;letter-spacing:0.00px">0</text></g>
<g transform="translate(0 275.89) scale(1 1.030)"><path transform="translate(576.03 0.00) scale(0.01064 -0.01064)" d="M807 0H526V1059C424 963 303 892 162 846V1101C235 1125 316 1170 402 1237C488 1305 547 1382 579 1466H807Z"/><text x="588.15" y="0" style="font-size:21.80px;letter-spacing:0.00px">00</text></g>
<g transform="translate(0 236.08) scale(1 1.030)"><text x="576.03" y="0" style="font-size:21.80px;letter-spacing:0.00px">200</text></g>
<g transform="translate(0 196.27) scale(1 1.030)"><text x="576.03" y="0" style="font-size:21.80px;letter-spacing:0.00px">300</text></g>
<g transform="translate(0 156.46) scale(1 1.030)"><text x="576.03" y="0" style="font-size:21.80px;letter-spacing:0.00px">400</text></g>
<g transform="translate(0 116.65) scale(1 1.030)"><text x="576.03" y="0" style="font-size:21.80px;letter-spacing:0.00px">500</text></g>
<g transform="translate(0 76.84) scale(1 1.030)"><text x="576.03" y="0" style="font-size:21.80px;letter-spacing:0.00px">600</text></g>
<g transform="translate(0 37.03) scale(1 1.030)"><text x="576.03" y="0" style="font-size:21.80px;letter-spacing:0.00px">700</text></g>
<g transform="translate(0 344.80) scale(1 1.030)"><text x="604.15" y="0" style="font-size:22.00px;letter-spacing:0.00px">300</text></g>
<g transform="translate(0 344.80) scale(1 1.030)"><text x="675.13" y="0" style="font-size:22.00px;letter-spacing:0.00px">400</text></g>
<g transform="translate(0 344.80) scale(1 1.030)"><text x="746.11" y="0" style="font-size:22.00px;letter-spacing:0.00px">500</text></g>
<g transform="translate(0 344.80) scale(1 1.030)"><text x="817.09" y="0" style="font-size:22.00px;letter-spacing:0.00px">600</text></g>
<g transform="translate(0 344.80) scale(1 1.030)"><text x="888.07" y="0" style="font-size:22.00px;letter-spacing:0.00px">700</text></g>
<g transform="translate(0 344.80) scale(1 1.030)"><text x="959.06" y="0" style="font-size:22.00px;letter-spacing:0.00px">800</text></g>
<text x="729.48" y="365.00" textLength="176.92" lengthAdjust="spacingAndGlyphs"  style="font-size:22.0px">Wavelength (nm)</text>
<g transform="translate(566.4 265.6) rotate(-90)"><text x="-1.53" y="0.00" textLength="155.07" lengthAdjust="spacingAndGlyphs"  style="font-size:23.5px">Intensity (a.u.)</text></g>
<g stroke-width="2.2">
<line x1="624.6" y1="47.2" x2="671.8" y2="47.2" stroke="#1414a0"/>
<line x1="624.6" y1="78.9" x2="671.8" y2="78.9" stroke="#c8136a"/>
</g>
<text x="681.9" y="53.6" style="font-size:18.6px;letter-spacing:0.60px"><tspan dy="0.0">(NaYF</tspan><tspan style="font-size:10.3px" dx="1.0" dy="7.8">4</tspan><tspan dy="-7.8">:Yb/Tm)/NaYbF</tspan><tspan style="font-size:10.3px" dx="1.0" dy="7.8">4</tspan></text>
<text x="681.9" y="86.2" style="font-size:18.6px;letter-spacing:0.60px"><tspan dy="0.0">(NaYF</tspan><tspan style="font-size:10.3px" dx="1.0" dy="7.8">4</tspan><tspan dy="-7.8">:Yb/Tm)/NaYbF</tspan><tspan style="font-size:10.3px" dx="1.0" dy="7.8">4</tspan><tspan dy="-7.8">/NaYF</tspan><tspan style="font-size:10.3px" dx="1.0" dy="7.8">4</tspan></text>
</g>
<rect x="0" y="373.3" width="1024" height="8" fill="#fff"/>
</svg>
</body></html>
